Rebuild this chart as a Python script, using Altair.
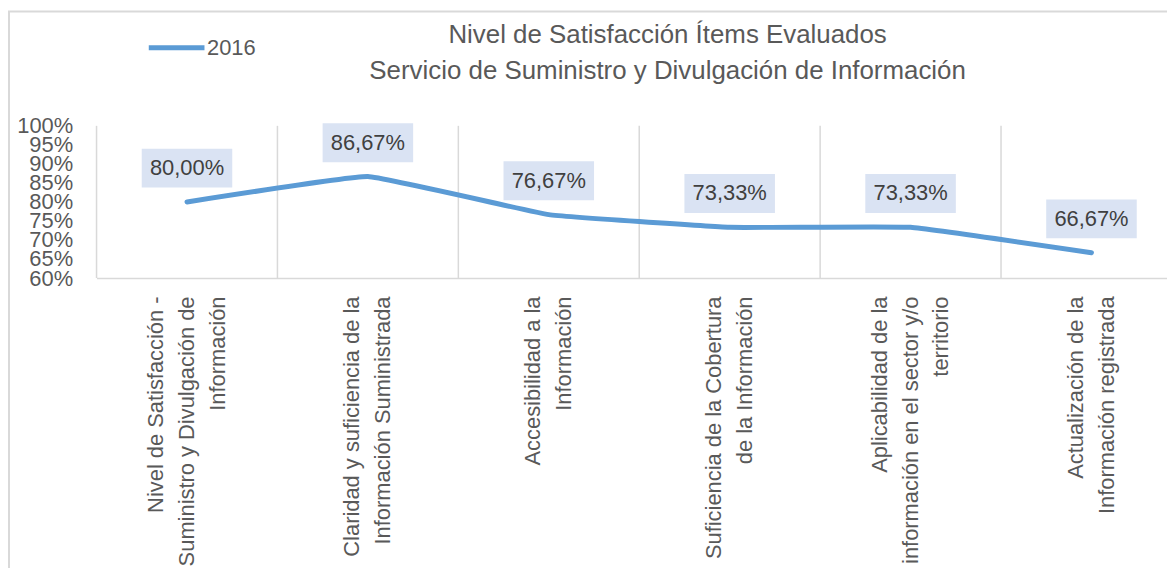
import altair as alt
import pandas as pd

categorias = [
    "Nivel de Satisfacción -\nSuministro y Divulgación de\nInformación",
    "Claridad y suficiencia de la\nInformación Suministrada",
    "Accesibilidad a la\nInformación",
    "Suficiencia de la Cobertura\nde la Información",
    "Aplicabilidad de la\ninformación en el sector y/o\nterritorio",
    "Actualización de la\nInformación registrada",
]
valores = [0.80, 0.8667, 0.7667, 0.7333, 0.7333, 0.6667]
serie = ["2016"] * len(categorias)
y_ticks = [0.60, 0.65, 0.70, 0.75, 0.80, 0.85, 0.90, 0.95, 1.00]
titulo = ["Nivel de Satisfacción Ítems Evaluados",
          "Servicio de Suministro y Divulgación de Información"]

df = pd.DataFrame({"cat": categorias, "v": valores, "serie": serie})

FONT = "Liberation Sans"
GRID = "#d9d9d9"
TXT = "#595959"
BLUE = "#5b9bd5"

xscale = alt.Scale(type="band", range=[0, 1091], paddingInner=0, paddingOuter=0)
x_enc = alt.X(
    "cat:N",
    sort=None,
    scale=xscale,
    bandPosition=0.5,
    axis=alt.Axis(
        title=None,
        labelAngle=270,
        labelAlign="right",
        labelBaseline="middle",
        labelExpr="split(datum.label, '\\n')",
        labelLineHeight=31,
        labelFontSize=22,
        labelColor=TXT,
        labelPadding=18,
        labelOffset=alt.condition(
            "length(split(datum.label, '\\n')) == 3", alt.value(-31), alt.value(-15.5)
        ),
        labelLimit=0,
        labelOverlap=False,
        ticks=False,
        domainColor=GRID,
        domainWidth=1.5,
        grid=False,
    ),
)
y_enc = alt.Y(
    "v:Q",
    scale=alt.Scale(domain=[0.6, 1.0], zero=False, nice=False),
    axis=alt.Axis(
        title=None,
        values=y_ticks,
        format=".0%",
        labelFontSize=22,
        labelColor=TXT,
        labelPadding=24,
        labelOverlap=False,
        ticks=False,
        domain=False,
        grid=False,
    ),
)

base = alt.Chart(df)

grid = base.mark_rule(color=GRID, strokeWidth=1.5).encode(
    x=alt.X("cat:N", sort=None, scale=xscale, bandPosition=0)
)

line = base.mark_line(
    strokeWidth=5, strokeCap="round", strokeJoin="round",
    interpolate="cardinal", tension=0.75,
).encode(
    x=x_enc,
    y=y_enc,
    color=alt.Color(
        "serie:N",
        scale=alt.Scale(range=[BLUE]),
        legend=alt.Legend(
            title=None,
            orient="none",
            legendX=50,
            legendY=-109,
            symbolType="stroke",
            symbolSize=3136,
            symbolStrokeWidth=5,
            labelFontSize=22,
            labelColor=TXT,
            labelOffset=0,
            padding=0,
        ),
    ),
)

box = base.mark_point(
    shape="M-1,-0.43L1,-0.43L1,0.43L-1,0.43Z",
    size=8281,
    filled=True,
    fill="#dae3f3",
    opacity=1,
    strokeWidth=0,
    yOffset=-34,
).encode(x=x_enc, y=y_enc)

labels = base.transform_calculate(
    lab="replace(format(datum.v, '.2%'), '.', ',')"
).mark_text(fontSize=22, color="#404040", baseline="middle", yOffset=-34).encode(
    x=x_enc, y=y_enc, text="lab:N"
)

tdf = pd.DataFrame({"t": titulo, "i": [0, 1]})
title1 = alt.Chart(tdf).transform_filter("datum.i == 0").mark_text(
    fontSize=26, color=TXT, baseline="alphabetic", align="center"
).encode(x=alt.value(574), y=alt.value(-83), text="t:N")
title2 = alt.Chart(tdf).transform_filter("datum.i == 1").mark_text(
    fontSize=26, color=TXT, baseline="alphabetic", align="center"
).encode(x=alt.value(574), y=alt.value(-47), text="t:N")

one = pd.DataFrame({"a": [0]})
border_top = alt.Chart(one).mark_rule(color=GRID, strokeWidth=2).encode(
    x=alt.value(-89), x2=alt.value(1100), y=alt.value(-115)
)
border_left = alt.Chart(one).mark_rule(color=GRID, strokeWidth=2).encode(
    x=alt.value(-88), y=alt.value(-115), y2=alt.value(470)
)

chart = (
    alt.layer(grid, line, box, labels, title1, title2, border_top, border_left)
    .properties(
        width=1076,
        height=153,
        autosize=alt.AutoSizeParams(type="none"),
        padding={"left": 89, "top": 117, "right": 0, "bottom": 290},
    )
    .configure(font=FONT)
    .configure_view(stroke=None)
)

chart.save("out.html", embed_options={"renderer": "svg", "actions": False})
